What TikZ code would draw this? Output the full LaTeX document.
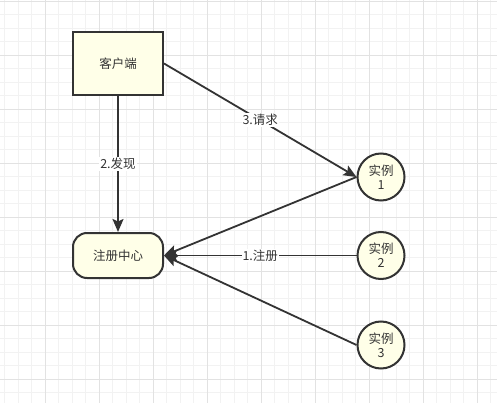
\documentclass[tikz,border=0pt]{standalone}
\usepackage{fontspec}
\setmainfont{Noto Sans CJK SC}
\usetikzlibrary{positioning,shapes,arrows.meta}
\definecolor{inkgray}{HTML}{333333}
\definecolor{paleyellow}{HTML}{FFFFE8}
\definecolor{gridminor}{HTML}{F2F2F2}
\definecolor{gridmajor}{HTML}{E2E2E2}

\begin{document}
\begin{tikzpicture}[x=1pt,y=-1pt,
  font=\fontsize{12.5}{14}\selectfont, text=inkgray,
  box/.style={draw=inkgray, line width=2, fill=paleyellow, minimum width=90, minimum height=63},
  center/.style={draw=inkgray, line width=2, fill=paleyellow, rounded corners=14, minimum width=90, minimum height=45},
  instance/.style={draw=inkgray, line width=2, fill=paleyellow, circle, minimum size=47, inner sep=0, align=center, font=\fontsize{12.5}{14}\selectfont},
  link/.style={draw=inkgray, line width=1.8, -{Stealth[length=13, width=11, inset=2.5]}},
  lbl/.style={fill=white, inner sep=1, font=\fontsize{12.5}{14}\selectfont}]
\useasboundingbox (0,0) rectangle (497,403);
\fill[white] (0,0) rectangle (497,403);
\foreach \i in {-3,...,33}
  \draw[gridminor, line width=0.8] ({45.3+13.5*\i},0) -- ({45.3+13.5*\i},403);
\foreach \i in {-4,...,26}
  \draw[gridminor, line width=0.8] (0,{55+13.5*\i}) -- (497,{55+13.5*\i});
\foreach \i in {0,...,8}
  \draw[gridmajor, line width=0.8] ({45.3+54*\i},0) -- ({45.3+54*\i},403);
\foreach \i in {0,...,7}
  \draw[gridmajor, line width=0.8] (0,{1+54*\i}) -- (497,{1+54*\i});

\node[box] (client) at (118,63.5) {客户端};
\node[center] (registry) at (118,255.5) {注册中心};
\node[instance] (inst1) at (381,177) {实例\\1};
\node[instance] (inst2) at (381,255.5) {实例\\2};
\node[instance] (inst3) at (381,345) {实例\\3};

\draw[link] (client.east) -- node[lbl] {3.请求} (inst1.west);
\draw[link] (client.south) -- node[lbl] {2.发现} (registry.north);
\draw[link] (inst1.west) -- (registry.east);
\draw[link] (inst2.west) -- node[lbl] {1.注册} (registry.east);
\draw[link] (inst3.west) -- (registry.east);
\end{tikzpicture}
\end{document}
